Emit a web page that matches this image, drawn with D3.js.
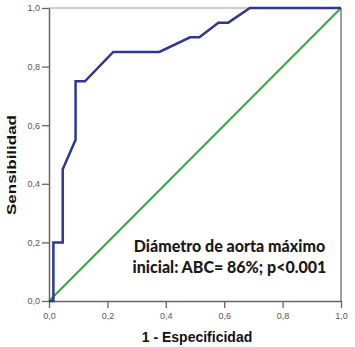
<!DOCTYPE html>
<html>
<head>
<meta charset="utf-8">
<script src="https://cdn.jsdelivr.net/npm/d3@7"></script>
<style>
  body { margin: 0; background: #fff; }
  .tick text { font-family: Arial, "Liberation Sans", sans-serif; font-size: 9px; fill: #555; }
</style>
</head>
<body>
<div class="canva"></div>
<script>
// ROC curve
const fpr = [0, 0.015, 0.015, 0.047, 0.047, 0.091, 0.091, 0.123, 0.22, 0.378, 0.483, 0.515, 0.58, 0.614, 0.688, 1.0];
const tpr = [0, 0, 0.2, 0.2, 0.45, 0.55, 0.75, 0.75, 0.85, 0.85, 0.90, 0.90, 0.95, 0.95, 1.0, 1.0];
const refLine = [0, 1];
const tickVals = [0, 0.2, 0.4, 0.6, 0.8, 1.0];
const annotation = ["Diámetro de aorta máximo", "inicial: ABC= 86%; p<0.001"];

const width = 355, height = 347;
const margin = {top: 8, right: 14, bottom: 46, left: 49};
const w = width - margin.left - margin.right;
const h = height - margin.top - margin.bottom;

const svg = d3.select(".canva").append("svg")
    .attr("width", width)
    .attr("height", height);

const g = svg.append("g")
    .attr("transform", `translate(${margin.left},${margin.top})`);

const x = d3.scaleLinear().domain([0, 1]).range([0, w]);
const y = d3.scaleLinear().domain([0, 1]).range([h, 0]);
const fmt = d => d3.format(".1f")(d).replace(".", ",");

// frame top / right
g.append("line").attr("x1", 0).attr("x2", w).attr("y1", 0).attr("y2", 0)
    .attr("stroke", "#999").attr("stroke-width", 1.2);
g.append("line").attr("x1", w).attr("x2", w).attr("y1", 0).attr("y2", h)
    .attr("stroke", "#777").attr("stroke-width", 1.4);

const xAxis = g.append("g")
    .attr("transform", `translate(0,${h})`)
    .call(d3.axisBottom(x).tickValues(tickVals).tickFormat(fmt).tickSize(7).tickSizeOuter(0));
const yAxis = g.append("g")
    .call(d3.axisLeft(y).tickValues(tickVals).tickFormat(fmt).tickSize(7).tickSizeOuter(0));
[xAxis, yAxis].forEach(a => {
    a.select(".domain").attr("stroke", "#666").attr("stroke-width", 1.5);
    a.selectAll(".tick line").attr("stroke", "#666").attr("stroke-width", 1.3);
});
xAxis.selectAll(".tick text").attr("dy", "0.9em");
yAxis.selectAll(".tick text").attr("x", -9);

// reference diagonal
g.append("path")
    .datum(refLine)
    .attr("fill", "none")
    .attr("stroke", "#35a83c")
    .attr("stroke-width", 2)
    .attr("d", d3.line().x(d => x(d)).y(d => y(d)));

// ROC curve
g.append("path")
    .datum(fpr.map((f, i) => [f, tpr[i]]))
    .attr("fill", "none")
    .attr("stroke", "#2e3890")
    .attr("stroke-width", 2.5)
    .attr("stroke-linejoin", "miter")
    .attr("d", d3.line().x(d => x(d[0])).y(d => y(d[1])));

// annotation
g.append("text")
    .attr("text-anchor", "middle")
    .attr("font-family", "Lato, sans-serif")
    .attr("font-weight", 900)
    .attr("font-size", 16)
    .attr("fill", "#1a1a1a")
    .selectAll("tspan")
    .data(annotation)
    .join("tspan")
    .attr("x", 229.5 - margin.left)
    .attr("y", (d, i) => 251.5 - margin.top + i * 21)
    .text(d => d);

// axis titles
svg.append("text")
    .attr("x", 197)
    .attr("y", 341.5)
    .attr("text-anchor", "middle")
    .attr("font-family", "Arial, sans-serif")
    .attr("font-weight", "bold")
    .attr("font-size", 14)
    .attr("fill", "#111")
    .text("1 - Especificidad");

svg.append("text")
    .attr("transform", "translate(15.5,165) rotate(-90)")
    .attr("text-anchor", "middle")
    .attr("font-family", "Arial, sans-serif")
    .attr("font-weight", "bold")
    .attr("font-size", 13.5)
    .attr("textLength", 100)
    .attr("lengthAdjust", "spacingAndGlyphs")
    .attr("fill", "#111")
    .text("Sensibilidad");
</script>
</body>
</html>
